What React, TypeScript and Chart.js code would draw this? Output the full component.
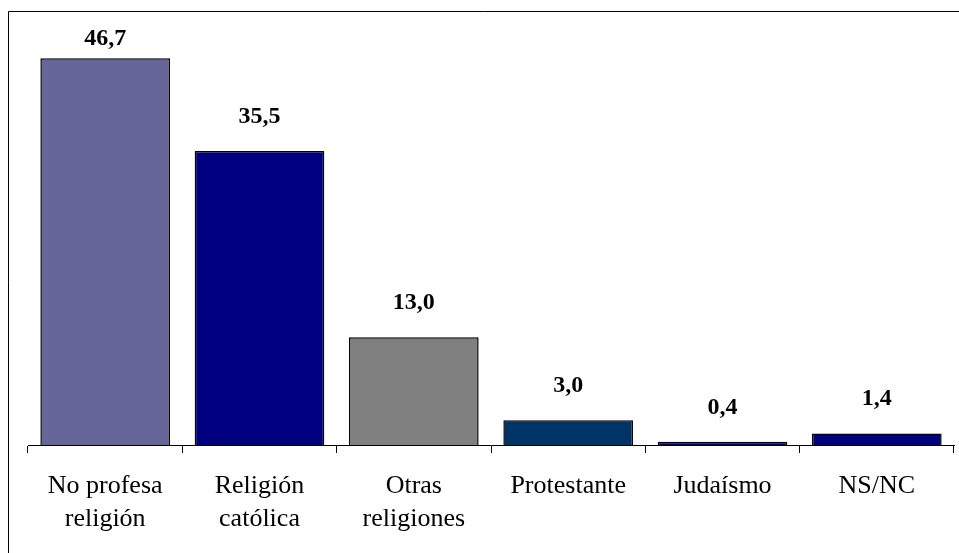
import React, { useEffect, useRef } from "react";
import { Chart, registerables } from "chart.js";

Chart.register(...registerables);

const categories: string[][] = [
  ["No profesa", "religión"],
  ["Religión", "católica"],
  ["Otras", "religiones"],
  ["Protestante"],
  ["Judaísmo"],
  ["NS/NC"],
];
const values: number[] = [46.7, 35.5, 13.0, 3.0, 0.4, 1.4];
const barColors: string[] = ["#666699", "#000080", "#808080", "#003366", "#000080", "#000080"];
const yMin = 0;
const yMax = 50;

const FONT = "'Liberation Serif', 'Times New Roman', serif";

const frame = {
  id: "frame",
  beforeDraw(chart: any) {
    const { ctx, width } = chart;
    ctx.save();
    ctx.fillStyle = "#ffffff";
    ctx.fillRect(0, 0, width, chart.height);
    ctx.strokeStyle = "#000000";
    ctx.lineWidth = 1;
    ctx.beginPath();
    ctx.moveTo(8.5, chart.height);
    ctx.lineTo(8.5, 11.5);
    ctx.lineTo(width, 11.5);
    ctx.stroke();
    ctx.restore();
  },
};

const valueLabels = {
  id: "valueLabels",
  afterDatasetsDraw(chart: any) {
    const { ctx, chartArea } = chart;
    const meta = chart.getDatasetMeta(0);
    ctx.save();
    ctx.font = `bold 24px ${FONT}`;
    ctx.fillStyle = "#000000";
    ctx.textAlign = "center";
    ctx.textBaseline = "alphabetic";
    meta.data.forEach((bar: any, i: number) => {
      const v = values[i];
      const txt = v.toFixed(1).replace(".", ",");
      const y = Math.max(bar.y - 28, chartArea.top + 14);
      ctx.fillText(txt, bar.x, y);
    });
    ctx.restore();
  },
};

export default function App() {
  const ref = useRef<HTMLCanvasElement | null>(null);
  useEffect(() => {
    document.documentElement.style.overflow = "hidden";
    const canvas = ref.current;
    if (!canvas) return;
    const chart = new Chart(canvas, {
      type: "bar",
      data: {
        labels: categories,
        datasets: [
          {
            data: values,
            backgroundColor: barColors,
            borderColor: "#000000",
            borderWidth: 1.5,
            barPercentage: 0.84,
            categoryPercentage: 1,
          },
        ],
      },
      options: {
        animation: false,
        responsive: false,
        devicePixelRatio: 1,
        layout: { padding: { left: 28, right: 5, top: 31, bottom: 0 } },
        plugins: {
          legend: { display: false },
          tooltip: { enabled: false },
          title: { display: false },
        },
        scales: {
          y: {
            display: false,
            min: yMin,
            max: yMax,
          },
          x: {
            offset: true,
            border: { display: true, color: "#000000", width: 1 },
            grid: {
              display: true,
              offset: true,
              drawOnChartArea: false,
              drawTicks: true,
              tickLength: 8,
              color: "#000000",
            },
            ticks: {
              color: "#000000",
              padding: 17,
              maxRotation: 0,
              autoSkip: false,
              font: { family: FONT, size: 26, lineHeight: 1.27 },
            },
            afterFit(scale: any) {
              scale.height = 108;
            },
          },
        },
      },
      plugins: [frame, valueLabels],
    });
    return () => chart.destroy();
  }, []);

  return (
    <canvas
      ref={ref}
      width={959}
      height={553}
      style={{ position: "fixed", left: 0, top: 0, display: "block" }}
    />
  );
}
